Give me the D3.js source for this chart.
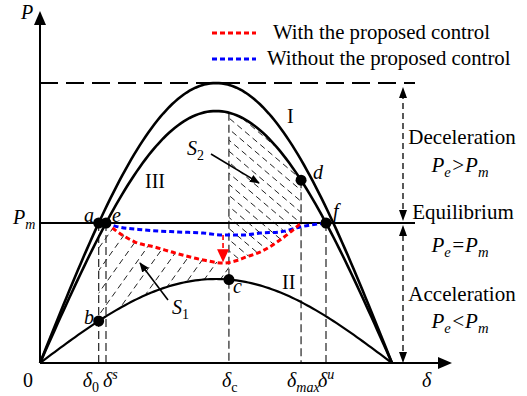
<!DOCTYPE html>
<html>
<head>
<meta charset="utf-8">
<script src="https://cdn.jsdelivr.net/npm/d3@7"></script>
<style>
  html, body { margin: 0; padding: 0; background: #fff; }
  svg { display: block; }
</style>
</head>
<body>
<svg id="chart" width="527" height="396"></svg>
<script>
// Power-angle curves (amplitudes, per unit of the pre-fault maximum)
const curveNames = ["I", "III", "II"];
const curveAmplitudes = [1.0, 0.9, 0.30];
const mechanicalPower = 0.5;

// Characteristic rotor angles (degrees)
const angleNames = ["δ0", "δs", "δc", "δmax", "δu"];
const angleValues = [30.0, 33.75, 96.6, 133.5, 146.25];

// Electrical power trajectory with the proposed control: [δ (deg), P]
const withControl = [
  [33.75, 0.5], [38.4, 0.475], [48.6, 0.432], [58.8, 0.414], [69.0, 0.393],
  [83.4, 0.368], [93.6, 0.357], [100.7, 0.366], [104.8, 0.377], [112.5, 0.396],
  [122.7, 0.439], [133.5, 0.5]
];
// Electrical power trajectory without the proposed control: [δ (deg), P]
const withoutControl = [
  [33.75, 0.5], [38.4, 0.489], [53.7, 0.475], [70.6, 0.468], [83.4, 0.464],
  [93.6, 0.457], [103.8, 0.457], [112.5, 0.464], [122.7, 0.468], [133.0, 0.486],
  [146.25, 0.5]
];
// Drop between the two trajectories at δ ≈ 93.6°: [δ, from P, to P]
const dropArrow = [93.6, 0.457, 0.36];

const legendLabels = ["With the proposed control", "Without the proposed control"];
const legendColors = ["#ff0000", "#0000ff"];

const FONT = "'Liberation Serif', 'Times New Roman', Times, 'DejaVu Serif', serif";

const svg = d3.select("#chart");
const x = d3.scaleLinear().domain([0, 180]).range([40, 392]);
const y = d3.scaleLinear().domain([0, 1]).range([363, 83]);

const [d0, dS, dC, dMax, dU] = angleValues;
const [ampI, ampIII, ampII] = curveAmplitudes;
const rad = d => d * Math.PI / 180;
const pa = (amp, d) => amp * Math.sin(rad(d));

const line = d3.line().x(d => x(d[0])).y(d => y(d[1]));
const smooth = d3.line().x(d => x(d[0])).y(d => y(d[1])).curve(d3.curveMonotoneX);
const sample = (amp, a, b) => d3.range(a, b + 0.001, (b - a) / 120).map(d => [d, pa(amp, d)]);

const defs = svg.append("defs");
defs.append("marker").attr("id", "ah").attr("viewBox", "0 0 10 10")
  .attr("refX", 9).attr("refY", 5).attr("markerWidth", 10).attr("markerHeight", 10)
  .attr("markerUnits", "userSpaceOnUse").attr("orient", "auto")
  .append("path").attr("d", "M0,1 L10,5 L0,9 Z").attr("fill", "#000");

// ---------- hatched areas ----------
const redAt = d => {
  for (let i = 1; i < withControl.length; i++) {
    const [a0, p0] = withControl[i - 1], [a1, p1] = withControl[i];
    if (d <= a1) return p0 + (p1 - p0) * (d - a0) / (a1 - a0);
  }
  return withControl[withControl.length - 1][1];
};

// S1: below the controlled trajectory, above curve II, δ0..δc
const s1 = [[d0, mechanicalPower]]
  .concat(withControl.filter(p => p[0] < dC))
  .concat([[dC, redAt(dC)]])
  .concat(sample(ampII, d0, dC).reverse());
// S2: below curve III, above the controlled trajectory, δc..δmax
const s2 = sample(ampIII, dC, dMax)
  .concat(withControl.filter(p => p[0] > dC && p[0] <= dMax).reverse())
  .concat([[dC, redAt(dC)]]);

defs.append("clipPath").attr("id", "clipS1").append("path").attr("d", line(s1) + "Z");
defs.append("clipPath").attr("id", "clipS2").append("path").attr("d", line(s2) + "Z");

function hatch(clipId, x0, x1, y0, y1, step, slope) {
  const g = svg.append("g").attr("clip-path", `url(#${clipId})`)
    .attr("stroke", "#222").attr("stroke-width", 1).attr("stroke-dasharray", "6,4").attr("fill", "none");
  const h = y1 - y0;
  for (let xs = x0 - h * 2; xs < x1 + h * 2; xs += step) {
    g.append("line").attr("x1", xs).attr("y1", y1).attr("x2", xs + h / slope).attr("y2", y0);
  }
}
hatch("clipS1", x(d0), x(dC), y(0.5), y(0.15), 16, 1.4);
hatch("clipS2", x(dC), x(dMax), y(0.9), y(0.35), 13, -0.85);

// ---------- dashed guide lines ----------
const guides = svg.append("g").attr("stroke", "#333").attr("stroke-width", 1.3)
  .attr("stroke-dasharray", "8,4").attr("fill", "none");
[[d0, mechanicalPower], [dS, mechanicalPower], [dC, pa(ampIII, dC)],
 [dMax, pa(ampIII, dMax)], [dU, mechanicalPower]].forEach(([d, p]) => {
  guides.append("line").attr("x1", x(d)).attr("x2", x(d)).attr("y1", y(p)).attr("y2", y(0));
});

// maximum power level
svg.append("line").attr("x1", x(0)).attr("x2", 415).attr("y1", y(ampI)).attr("y2", y(ampI))
  .attr("stroke", "#000").attr("stroke-width", 2).attr("stroke-dasharray", "18,8");

// ---------- axes ----------
svg.append("line").attr("x1", x(0)).attr("x2", 442).attr("y1", y(0)).attr("y2", y(0))
  .attr("stroke", "#000").attr("stroke-width", 2);
svg.append("path").attr("d", `M452,${y(0)} L438,${y(0) - 6} L438,${y(0) + 6} Z`).attr("fill", "#000");
svg.append("line").attr("x1", x(0)).attr("x2", x(0)).attr("y1", y(0)).attr("y2", 22)
  .attr("stroke", "#000").attr("stroke-width", 2);
svg.append("path").attr("d", `M${x(0)},11 L${x(0) - 6},25 L${x(0) + 6},25 Z`).attr("fill", "#000");

// mechanical power line
svg.append("line").attr("x1", x(0)).attr("x2", 415).attr("y1", y(mechanicalPower)).attr("y2", y(mechanicalPower))
  .attr("stroke", "#000").attr("stroke-width", 2);

// ---------- power-angle curves ----------
curveAmplitudes.forEach((amp, i) => {
  svg.append("path").attr("d", line(sample(amp, 0, 180)))
    .attr("fill", "none").attr("stroke", "#000").attr("stroke-width", i < 2 ? 2.6 : 2.2);
});

// ---------- trajectories ----------
svg.append("path").attr("d", smooth(withoutControl)).attr("fill", "none")
  .attr("stroke", legendColors[1]).attr("stroke-width", 3).attr("stroke-dasharray", "5,3");
svg.append("path").attr("d", smooth(withControl)).attr("fill", "none")
  .attr("stroke", legendColors[0]).attr("stroke-width", 3).attr("stroke-dasharray", "5,3");

// drop arrow
const ax = x(dropArrow[0]);
svg.append("line").attr("x1", ax).attr("x2", ax).attr("y1", y(dropArrow[1])).attr("y2", y(dropArrow[2]) - 10)
  .attr("stroke", legendColors[0]).attr("stroke-width", 1.6).attr("stroke-dasharray", "5,3");
svg.append("path").attr("d", `M${ax},${y(dropArrow[2])} L${ax - 6},${y(dropArrow[2]) - 13} L${ax + 6},${y(dropArrow[2]) - 13} Z`)
  .attr("fill", legendColors[0]);

// ---------- key points ----------
const points = [
  [d0, mechanicalPower], [dS, mechanicalPower], [d0, pa(ampII, d0)],
  [dC, pa(ampII, dC)], [dMax, pa(ampIII, dMax)], [dU, mechanicalPower]
];
svg.append("g").selectAll("circle").data(points).join("circle")
  .attr("cx", d => x(d[0])).attr("cy", d => y(d[1])).attr("r", 5.5).attr("fill", "#000");

// ---------- right-hand region markers ----------
const rx = 403;
const rg = svg.append("g").attr("stroke", "#000").attr("stroke-width", 1.3).attr("stroke-dasharray", "6,4");
rg.append("line").attr("x1", rx).attr("x2", rx).attr("y1", y(ampI) + 10).attr("y2", y(mechanicalPower) - 12);
rg.append("line").attr("x1", rx).attr("x2", rx).attr("y1", y(mechanicalPower) + 12).attr("y2", y(0) - 10);
const tri = (tx, ty, dir) => svg.append("path")
  .attr("d", `M${tx},${ty} L${tx - 4},${ty - dir * 11} L${tx + 4},${ty - dir * 11} Z`).attr("fill", "#000");
tri(rx, y(ampI) + 4, -1);
tri(rx, y(mechanicalPower) - 2, 1);
tri(rx, y(mechanicalPower) + 2, -1);
tri(rx, y(0), 1);

// ---------- text ----------
function rich(tx, ty, parts, anchor = "start", size = 20) {
  const t = svg.append("text").attr("x", tx).attr("y", ty).attr("text-anchor", anchor)
    .attr("font-size", size).attr("font-family", FONT).attr("fill", "#000");
  let shift = 0;
  parts.forEach(p => {
    const target = p.sub ? 5 : p.sup ? -8 : 0;
    t.append("tspan").attr("dy", target - shift)
      .attr("font-style", p.it ? "italic" : "normal")
      .attr("font-size", (p.sub || p.sup) ? size * 0.7 : size).text(p.t);
    shift = target;
  });
  return t;
}

// axis labels
rich(21, 19, [{ t: "P", it: 1 }]);
rich(13, 224, [{ t: "P", it: 1 }, { t: "m", it: 1, sub: 1 }]);
rich(23, 387, [{ t: "0" }]);
rich(422, 387, [{ t: "δ", it: 1 }]);
rich(x(d0) - 16, 387, [{ t: "δ", it: 1 }, { t: "0", sub: 1 }]);
rich(x(dS) - 3, 387, [{ t: "δ", it: 1 }, { t: "s", it: 1, sup: 1 }]);
rich(x(dC) - 7, 387, [{ t: "δ", it: 1 }, { t: "c", sub: 1 }]);
rich(x(dMax) - 14, 387, [{ t: "δ", it: 1 }, { t: "max", it: 1, sub: 1 }]);
rich(x(dU) - 8, 387, [{ t: "δ", it: 1 }, { t: "u", it: 1, sup: 1 }]);

// point labels
rich(84, 222, [{ t: "a", it: 1 }]);
rich(112, 222, [{ t: "e", it: 1 }]);
rich(84, 324, [{ t: "b", it: 1 }]);
rich(233, 293, [{ t: "c", it: 1 }]);
rich(313, 179, [{ t: "d", it: 1 }]);
rich(333, 218, [{ t: "f", it: 1 }]);

// curve labels
rich(287, 123, [{ t: curveNames[0] }]);
rich(145, 188, [{ t: curveNames[1] }]);
rich(282, 289, [{ t: curveNames[2] }]);

// area labels and pointers
rich(187, 155, [{ t: "S", it: 1 }, { t: "2", sub: 1 }]);
rich(172, 314, [{ t: "S", it: 1 }, { t: "1", sub: 1 }]);
svg.append("line").attr("x1", 211).attr("y1", 154).attr("x2", 259).attr("y2", 183)
  .attr("stroke", "#000").attr("stroke-width", 1.6).attr("marker-end", "url(#ah)");
svg.append("line").attr("x1", 168).attr("y1", 300).attr("x2", 140).attr("y2", 263)
  .attr("stroke", "#000").attr("stroke-width", 1.6).attr("marker-end", "url(#ah)");

// region descriptions
rich(462, 144, [{ t: "Deceleration" }], "middle", 21);
rich(460, 172, [{ t: "P", it: 1 }, { t: "e", it: 1, sub: 1 }, { t: ">P", it: 1 }, { t: "m", it: 1, sub: 1 }], "middle", 21);
rich(463, 219, [{ t: "Equilibrium" }], "middle", 21);
rich(460, 252, [{ t: "P", it: 1 }, { t: "e", it: 1, sub: 1 }, { t: "=P", it: 1 }, { t: "m", it: 1, sub: 1 }], "middle", 21);
rich(462, 301, [{ t: "Acceleration" }], "middle", 21);
rich(460, 328, [{ t: "P", it: 1 }, { t: "e", it: 1, sub: 1 }, { t: "<P", it: 1 }, { t: "m", it: 1, sub: 1 }], "middle", 21);

// legend
legendLabels.forEach((lab, i) => {
  const ly = 33 + i * 26;
  svg.append("line").attr("x1", 212).attr("x2", 256).attr("y1", ly).attr("y2", ly)
    .attr("stroke", legendColors[i]).attr("stroke-width", 3).attr("stroke-dasharray", "5,3");
  rich(i === 0 ? 273 : 267, ly + 6, [{ t: lab }], "start", 20.8);
});
</script>
</body>
</html>
